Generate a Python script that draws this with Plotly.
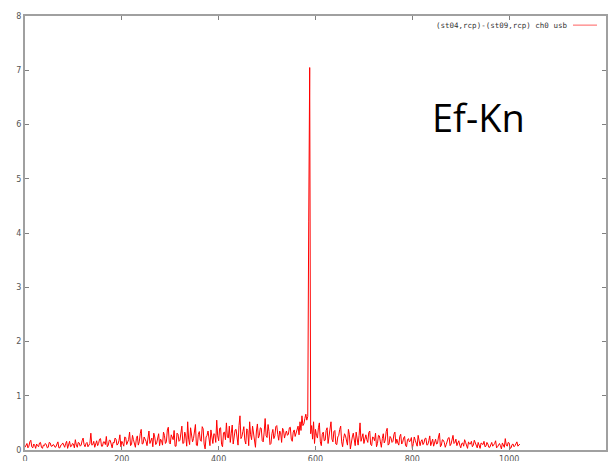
import plotly.graph_objects as go

# channel index (every 2nd channel) and amplitude
channels = list(range(0, 1024, 2))
amplitude = [
    0.05, 0.10, 0.12, 0.04, 0.07, 0.15, 0.18, 0.06, 0.04, 0.11, 0.09, 0.03, 0.11, 0.08, 0.06, 0.13,
    0.14, 0.05, 0.03, 0.09, 0.08, 0.12, 0.10, 0.04, 0.05, 0.14, 0.13, 0.07, 0.07, 0.10, 0.09, 0.05,
    0.06, 0.11, 0.15, 0.04, 0.04, 0.09, 0.10, 0.13, 0.08, 0.05, 0.12, 0.16, 0.03, 0.08, 0.16, 0.06,
    0.07, 0.12, 0.11, 0.04, 0.19, 0.09, 0.05, 0.14, 0.13, 0.07, 0.09, 0.17, 0.22, 0.10, 0.06, 0.12,
    0.14, 0.06, 0.08, 0.12, 0.31, 0.09, 0.10, 0.16, 0.05, 0.13, 0.17, 0.08, 0.12, 0.20, 0.21, 0.07,
    0.07, 0.15, 0.15, 0.10, 0.25, 0.06, 0.09, 0.18, 0.18, 0.11, 0.04, 0.14, 0.13, 0.22, 0.20, 0.09,
    0.11, 0.17, 0.28, 0.06, 0.16, 0.12, 0.07, 0.24, 0.23, 0.10, 0.14, 0.19, 0.33, 0.08, 0.10, 0.27,
    0.19, 0.13, 0.05, 0.21, 0.26, 0.09, 0.15, 0.30, 0.38, 0.11, 0.12, 0.24, 0.21, 0.16, 0.08, 0.29,
    0.35, 0.12, 0.17, 0.22, 0.06, 0.31, 0.24, 0.10, 0.13, 0.26, 0.30, 0.08, 0.20, 0.17, 0.09, 0.33,
    0.27, 0.12, 0.15, 0.37, 0.42, 0.14, 0.11, 0.28, 0.23, 0.19, 0.36, 0.07, 0.07, 0.31, 0.29, 0.16,
    0.18, 0.39, 0.44, 0.12, 0.13, 0.33, 0.26, 0.07, 0.52, 0.20, 0.10, 0.41, 0.31, 0.15, 0.21, 0.36,
    0.47, 0.09, 0.08, 0.29, 0.34, 0.18, 0.16, 0.43, 0.39, 0.11, 0.02, 0.24, 0.27, 0.35, 0.19, 0.08,
    0.37, 0.22, 0.12, 0.30, 0.29, 0.14, 0.55, 0.26, 0.17, 0.40, 0.41, 0.10, 0.06, 0.32, 0.33, 0.19,
    0.50, 0.24, 0.22, 0.44, 0.14, 0.31, 0.46, 0.11, 0.28, 0.37, 0.38, 0.16, 0.09, 0.45, 0.63, 0.21,
    0.25, 0.34, 0.43, 0.18, 0.11, 0.39, 0.36, 0.08, 0.52, 0.28, 0.19, 0.44, 0.31, 0.13, 0.05, 0.35,
    0.48, 0.22, 0.27, 0.41, 0.40, 0.17, 0.15, 0.33, 0.58, 0.26, 0.23, 0.47, 0.34, 0.10, 0.12, 0.30,
    0.38, 0.21, 0.26, 0.43, 0.45, 0.29, 0.18, 0.35, 0.32, 0.14, 0.40, 0.36, 0.22, 0.30, 0.35, 0.27,
    0.29, 0.41, 0.42, 0.20, 0.16, 0.33, 0.37, 0.25, 0.31, 0.39, 0.44, 0.28, 0.52, 0.36, 0.63, 0.45,
    0.48, 0.58, 0.66, 0.55, 0.62, 4.22, 7.05, 0.30, 0.45, 0.20, 0.52, 0.12, 0.38, 0.27, 0.22, 0.41,
    0.50, 0.15, 0.08, 0.29, 0.33, 0.17, 0.18, 0.36, 0.41, 0.12, 0.25, 0.31, 0.52, 0.20, 0.15, 0.34,
    0.36, 0.11, 0.10, 0.24, 0.27, 0.38, 0.44, 0.15, 0.06, 0.21, 0.30, 0.26, 0.19, 0.09, 0.38, 0.28,
    0.02, 0.17, 0.24, 0.31, 0.13, 0.08, 0.33, 0.22, 0.09, 0.27, 0.50, 0.16, 0.21, 0.30, 0.12, 0.25,
    0.28, 0.19, 0.14, 0.32, 0.35, 0.10, 0.08, 0.24, 0.23, 0.17, 0.31, 0.06, 0.12, 0.27, 0.26, 0.15,
    0.05, 0.21, 0.30, 0.13, 0.18, 0.34, 0.40, 0.09, 0.11, 0.25, 0.22, 0.14, 0.16, 0.29, 0.33, 0.12,
    0.20, 0.13, 0.09, 0.25, 0.29, 0.11, 0.14, 0.22, 0.25, 0.08, 0.06, 0.19, 0.21, 0.15, 0.17, 0.23,
    0.03, 0.12, 0.24, 0.18, 0.12, 0.07, 0.27, 0.20, 0.08, 0.16, 0.19, 0.10, 0.13, 0.21, 0.22, 0.09,
    0.10, 0.17, 0.26, 0.08, 0.15, 0.20, 0.07, 0.13, 0.20, 0.11, 0.12, 0.24, 0.31, 0.06, 0.09, 0.19,
    0.18, 0.14, 0.05, 0.10, 0.16, 0.22, 0.23, 0.08, 0.11, 0.17, 0.27, 0.12, 0.14, 0.20, 0.08, 0.13,
    0.17, 0.09, 0.04, 0.12, 0.13, 0.07, 0.19, 0.14, 0.08, 0.03, 0.15, 0.11, 0.11, 0.16, 0.06, 0.09,
    0.18, 0.12, 0.10, 0.04, 0.14, 0.08, 0.03, 0.13, 0.12, 0.10, 0.16, 0.06, 0.07, 0.14, 0.11, 0.05,
    0.05, 0.11, 0.14, 0.07, 0.09, 0.12, 0.17, 0.04, 0.06, 0.10, 0.12, 0.08, 0.02, 0.13, 0.10, 0.05,
    0.21, 0.09, 0.07, 0.14, 0.13, 0.03, 0.04, 0.10, 0.11, 0.06, 0.08, 0.12, 0.15, 0.07, 0.09, 0.11,
]
x_ticks = [0, 200, 400, 600, 800, 1000, 1200]
y_ticks = [0, 1, 2, 3, 4, 5, 6, 7, 8]
legend_label = "(st04,rcp)-(st09,rcp) ch0 usb"
overlay_label = "Ef-Kn"

fig = go.Figure()
fig.add_trace(go.Scatter(x=channels, y=amplitude, mode="lines",
                         line=dict(color="#ff0000", width=1), showlegend=False))

axis_common = dict(showgrid=False, zeroline=False, showline=True, linecolor="#a0a0a0",
                   linewidth=2, mirror="ticks", ticks="inside", ticklen=4, tickcolor="#808080",
                   automargin=False,
                   tickfont=dict(family="DejaVu Sans", size=8, color="#555555"))
fig.update_xaxes(range=[0, 1200], tickvals=x_ticks, **axis_common)
fig.update_yaxes(range=[0, 8], tickvals=y_ticks, **axis_common)

fig.add_annotation(x=0.9363, y=0.979, xref="paper", yref="paper", text=legend_label,
                   showarrow=False, xanchor="right", yanchor="middle",
                   font=dict(family="DejaVu Sans Mono", size=7.5, color="#333333"))
fig.add_shape(type="line", xref="paper", yref="paper", x0=0.9432, x1=0.9845, y0=0.979, y1=0.979,
              line=dict(color="#ff6060", width=1))
fig.add_annotation(x=0.7797, y=0.768, xref="paper", yref="paper", text=overlay_label,
                   showarrow=False, xanchor="center", yanchor="middle",
                   font=dict(family="Open Sans", size=38, color="#000000"))

fig.update_layout(width=614, height=461, margin=dict(l=25, r=8, t=16, b=11),
                  paper_bgcolor="white", plot_bgcolor="white")
fig.write_html("out.html", config={"displayModeBar": False},
               post_script="document.body.style.margin='0';document.body.style.padding='0';")
